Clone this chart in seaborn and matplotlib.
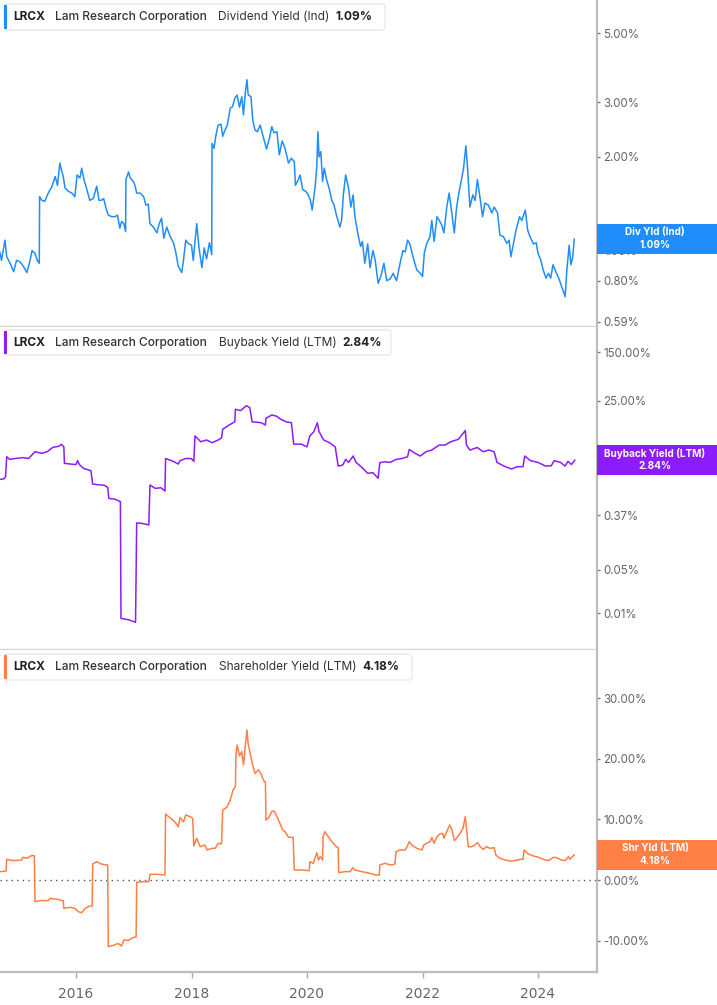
import numpy as np
import pandas as pd
import matplotlib
matplotlib.use("Agg")
import matplotlib.pyplot as plt
import matplotlib.dates as mdates
from matplotlib.patches import Rectangle, FancyBboxPatch
from matplotlib.ticker import NullLocator
import seaborn as sns

W, H = 717, 1005

# 데이터 (연도 소수점 표기, 값은 %)
div_t = [
    2014.68, 2014.71, 2014.77, 2014.80, 2014.86, 2014.92, 2014.97, 2015.03, 2015.09, 2015.15,
    2015.20, 2015.24, 2015.29, 2015.33, 2015.365, 2015.37, 2015.41, 2015.46, 2015.52, 2015.58,
    2015.64, 2015.68, 2015.72, 2015.75, 2015.78, 2015.81, 2015.87, 2015.93, 2015.98, 2016.02,
    2016.07, 2016.10, 2016.14, 2016.19, 2016.24, 2016.30, 2016.36, 2016.40, 2016.44, 2016.48,
    2016.52, 2016.56, 2016.62, 2016.68, 2016.72, 2016.76, 2016.79, 2016.83, 2016.86, 2016.866,
    2016.91, 2016.94, 2016.99, 2017.02, 2017.05, 2017.11, 2017.17, 2017.21, 2017.25, 2017.28,
    2017.34, 2017.40, 2017.44, 2017.48, 2017.52, 2017.57, 2017.63, 2017.69, 2017.73, 2017.77,
    2017.83, 2017.86, 2017.90, 2017.94, 2018.00, 2018.03, 2018.09, 2018.13, 2018.18, 2018.22,
    2018.26, 2018.31, 2018.35, 2018.355, 2018.39, 2018.42, 2018.46, 2018.51, 2018.54, 2018.58,
    2018.62, 2018.67, 2018.71, 2018.75, 2018.79, 2018.83, 2018.87, 2018.90, 2018.93, 2018.96,
    2018.98, 2019.03, 2019.06, 2019.10, 2019.14, 2019.19, 2019.24, 2019.30, 2019.35, 2019.39,
    2019.43, 2019.48, 2019.52, 2019.57, 2019.62, 2019.68, 2019.73, 2019.78, 2019.80, 2019.85,
    2019.88, 2019.925, 2019.98, 2020.02, 2020.06, 2020.09, 2020.14, 2020.17, 2020.19, 2020.21,
    2020.24, 2020.27, 2020.30, 2020.34, 2020.39, 2020.43, 2020.47, 2020.51, 2020.57, 2020.60,
    2020.63, 2020.67, 2020.72, 2020.76, 2020.80, 2020.83, 2020.89, 2020.93, 2020.96, 2021.00,
    2021.05, 2021.09, 2021.14, 2021.18, 2021.23, 2021.28, 2021.33, 2021.38, 2021.44, 2021.49,
    2021.55, 2021.61, 2021.66, 2021.70, 2021.74, 2021.78, 2021.84, 2021.90, 2021.96, 2022.00,
    2022.03, 2022.07, 2022.13, 2022.16, 2022.20, 2022.25, 2022.29, 2022.33, 2022.37, 2022.42,
    2022.46, 2022.50, 2022.55, 2022.59, 2022.64, 2022.68, 2022.71, 2022.75, 2022.78, 2022.82,
    2022.87, 2022.91, 2022.95, 2022.995, 2023.04, 2023.08, 2023.14, 2023.20, 2023.24, 2023.30,
    2023.34, 2023.40, 2023.46, 2023.50, 2023.53, 2023.57, 2023.62, 2023.68, 2023.72, 2023.78,
    2023.82, 2023.86, 2023.92, 2023.97, 2024.00, 2024.05, 2024.09, 2024.14, 2024.18, 2024.22,
    2024.26, 2024.32, 2024.36, 2024.41, 2024.44, 2024.47, 2024.50, 2024.54, 2024.57, 2024.60,
    2024.63,
]
div_v = [
    0.99, 0.93, 1.08, 0.955, 0.91, 0.855, 0.93, 0.92, 0.89, 0.85,
    0.92, 1.0, 0.98, 0.93, 0.91, 1.49, 1.45, 1.44, 1.53, 1.60,
    1.73, 1.62, 1.91, 1.81, 1.73, 1.59, 1.55, 1.53, 1.49, 1.75,
    1.71, 1.84, 1.69, 1.57, 1.45, 1.47, 1.61, 1.45, 1.45, 1.47,
    1.37, 1.30, 1.285, 1.285, 1.30, 1.18, 1.24, 1.22, 1.15, 1.69,
    1.79, 1.71, 1.67, 1.62, 1.53, 1.53, 1.49, 1.40, 1.41, 1.22,
    1.19, 1.14, 1.22, 1.27, 1.095, 1.19, 1.11, 1.055, 0.98, 0.89,
    0.85, 0.93, 1.08, 1.055, 1.04, 0.93, 1.22, 1.02, 0.88, 1.02,
    0.94, 1.06, 0.97, 2.21, 2.13, 2.33, 2.53, 2.55, 2.33, 2.44,
    2.53, 2.87, 2.90, 3.09, 3.16, 2.89, 3.12, 2.73, 3.2, 3.54,
    3.17, 3.12, 2.63, 2.44, 2.41, 2.53, 2.33, 2.12, 2.30, 2.50,
    2.39, 2.41, 2.03, 2.25, 2.13, 1.91, 1.98, 1.93, 1.62, 1.69,
    1.75, 1.57, 1.55, 1.51, 1.45, 1.35, 1.59, 1.86, 2.41, 2.00,
    2.08, 1.67, 1.84, 1.69, 1.57, 1.45, 1.40, 1.30, 1.19, 1.25,
    1.51, 1.75, 1.59, 1.38, 1.51, 1.285, 1.11, 1.03, 1.07, 0.91,
    1.05, 0.88, 1.0, 0.93, 0.785, 0.83, 0.91, 0.80, 0.81, 0.845,
    0.80, 0.91, 1.0, 0.99, 1.08, 1.05, 0.945, 0.866, 0.845, 0.825,
    0.98, 1.05, 1.11, 1.25, 1.07, 1.285, 1.25, 1.21, 1.14, 1.38,
    1.53, 1.35, 1.14, 1.38, 1.57, 1.71, 1.84, 2.17, 1.84, 1.38,
    1.51, 1.45, 1.69, 1.48, 1.285, 1.42, 1.40, 1.32, 1.38, 1.32,
    1.12, 1.11, 1.055, 1.08, 0.955, 1.04, 1.165, 1.285, 1.25, 1.35,
    1.165, 1.11, 1.05, 1.06, 0.98, 0.93, 0.866, 0.815, 0.845, 0.815,
    0.90, 0.845, 0.815, 0.765, 0.74, 0.71, 0.866, 1.04, 0.90, 0.95,
    1.09,
]

bb_t = [
    2014.684, 2014.75, 2014.78, 2014.80, 2014.85, 2014.95, 2015.08, 2015.18, 2015.29, 2015.41,
    2015.50, 2015.60, 2015.70, 2015.75, 2015.79, 2015.80, 2015.90, 2016.00, 2016.03, 2016.06,
    2016.13, 2016.26, 2016.29, 2016.39, 2016.49, 2016.55, 2016.57, 2016.68, 2016.77, 2016.78,
    2016.91, 2017.03, 2017.05, 2017.14, 2017.26, 2017.28, 2017.37, 2017.47, 2017.54, 2017.55,
    2017.67, 2017.77, 2017.80, 2017.90, 2017.995, 2018.04, 2018.06, 2018.16, 2018.26, 2018.36,
    2018.46, 2018.52, 2018.54, 2018.65, 2018.75, 2018.76, 2018.85, 2018.95, 2019.01, 2019.05,
    2019.14, 2019.21, 2019.28, 2019.29, 2019.39, 2019.47, 2019.54, 2019.64, 2019.73, 2019.77,
    2019.90, 2020.00, 2020.05, 2020.12, 2020.18, 2020.21, 2020.29, 2020.39, 2020.49, 2020.54,
    2020.62, 2020.67, 2020.72, 2020.80, 2020.85, 2020.95, 2021.05, 2021.14, 2021.23, 2021.26,
    2021.34, 2021.44, 2021.54, 2021.64, 2021.74, 2021.77, 2021.87, 2021.96, 2022.06, 2022.16,
    2022.29, 2022.39, 2022.49, 2022.62, 2022.74, 2022.76, 2022.82, 2022.95, 2023.05, 2023.15,
    2023.24, 2023.29, 2023.41, 2023.54, 2023.64, 2023.74, 2023.77, 2023.87, 2024.00, 2024.13,
    2024.23, 2024.28, 2024.39, 2024.47, 2024.52, 2024.58, 2024.64,
]
bb_v = [
    1.39, 1.42, 1.53, 3.2, 2.91, 3.0, 3.1, 3.0, 3.85, 3.63,
    3.85, 4.53, 4.7, 5.06, 4.6, 2.51, 2.45, 2.4, 2.77, 2.4,
    2.09, 1.91, 1.17, 1.14, 1.12, 1.04, 0.69, 0.67, 0.61, 0.0083,
    0.0079, 0.0072, 0.28, 0.275, 0.26, 1.13, 1.0, 1.02, 0.905, 3.0,
    2.74, 2.45, 2.77, 3.0, 3.0, 2.7, 6.9, 5.57, 5.93, 5.37,
    5.93, 6.4, 8.8, 10.3, 11.6, 18.4, 17.5, 21.0, 19.5, 11.6,
    11.4, 11.2, 10.3, 13.2, 14.9, 14.3, 12.8, 11.6, 11.2, 5.1,
    5.1, 4.6, 6.9, 8.05, 11.2, 8.05, 5.93, 5.37, 4.6, 2.27,
    2.36, 2.9, 2.6, 3.29, 2.6, 2.17, 1.74, 1.78, 1.45, 2.57,
    2.66, 2.6, 2.9, 3.0, 3.2, 4.2, 3.63, 3.29, 3.85, 4.1,
    4.93, 4.93, 5.57, 6.08, 8.4, 4.93, 4.1, 4.5, 3.85, 4.1,
    3.85, 2.6, 2.27, 2.04, 2.22, 2.22, 3.29, 2.77, 2.6, 2.27,
    2.3, 2.77, 2.6, 2.27, 2.7, 2.4, 2.84,
]

sh_t = [
    2014.684, 2014.79, 2014.80, 2014.91, 2015.06, 2015.08, 2015.15, 2015.23, 2015.28, 2015.29,
    2015.38, 2015.52, 2015.55, 2015.69, 2015.75, 2015.78, 2015.79, 2015.90, 2015.98, 2016.04,
    2016.10, 2016.16, 2016.24, 2016.28, 2016.29, 2016.36, 2016.44, 2016.53, 2016.55, 2016.56,
    2016.65, 2016.73, 2016.79, 2016.83, 2016.91, 2016.96, 2017.04, 2017.05, 2017.17, 2017.26,
    2017.28, 2017.40, 2017.54, 2017.55, 2017.60, 2017.66, 2017.71, 2017.77, 2017.80, 2017.86,
    2017.90, 2017.97, 2018.02, 2018.04, 2018.09, 2018.15, 2018.23, 2018.27, 2018.35, 2018.41,
    2018.46, 2018.52, 2018.54, 2018.61, 2018.67, 2018.72, 2018.76, 2018.77, 2018.79, 2018.83,
    2018.87, 2018.90, 2018.93, 2018.96, 2018.98, 2019.02, 2019.06, 2019.10, 2019.16, 2019.20,
    2019.26, 2019.28, 2019.29, 2019.33, 2019.39, 2019.43, 2019.48, 2019.53, 2019.58, 2019.62,
    2019.68, 2019.76, 2019.78,
    2019.88, 2020.04, 2020.05, 2020.11, 2020.17, 2020.20, 2020.23, 2020.27, 2020.28, 2020.31,
    2020.37, 2020.43, 2020.51, 2020.54, 2020.55, 2020.66, 2020.75, 2020.79, 2020.83, 2020.95,
    2021.09, 2021.18, 2021.25, 2021.26, 2021.35, 2021.44, 2021.52, 2021.54, 2021.61, 2021.70,
    2021.73, 2021.77, 2021.81, 2021.90, 2021.99, 2022.02, 2022.07, 2022.13, 2022.16, 2022.20,
    2022.25, 2022.30, 2022.35, 2022.37, 2022.42, 2022.47, 2022.51, 2022.55, 2022.59, 2022.65,
    2022.70, 2022.74, 2022.77, 2022.79, 2022.85, 2022.91, 2022.95, 2023.00, 2023.05, 2023.11,
    2023.17, 2023.24, 2023.27, 2023.34, 2023.43, 2023.52, 2023.60, 2023.69, 2023.74, 2023.76,
    2023.83, 2023.92, 2024.01, 2024.09, 2024.18, 2024.27, 2024.32, 2024.41, 2024.47, 2024.53,
    2024.55, 2024.60, 2024.63,
]
sh_v = [
    1.37, 1.5, 3.42, 3.2, 3.31, 3.75, 3.59, 4.02, 4.02, -3.58,
    -3.4, -3.4, -3.03, -3.2, -3.4, -3.4, -4.68, -4.52, -4.68, -5.23,
    -5.4, -4.68, -4.3, -4.3, 2.64, 3.03, 2.64, 2.48, 2.48, -11.0,
    -10.8, -10.47, -10.9, -9.9, -10.0, -9.64, -9.37, -0.39, -0.28, -0.28,
    0.94, 0.94, 0.83, 10.9, 10.5, 10.0, 9.6, 8.8, 10.3, 9.6,
    10.74, 10.5, 10.2, 5.62, 6.89, 5.5, 5.78, 4.96, 5.23, 5.23,
    6.06, 5.95, 11.57, 12.0, 13.2, 14.9, 15.4, 20.9, 22.3, 20.5,
    21.2, 19.0, 22.0, 24.8, 22.6, 20.7, 19.0, 17.6, 18.2, 17.6,
    16.25, 16.25, 9.9, 10.2, 11.3, 11.4, 10.5, 9.37, 8.26, 7.98,
    7.05, 7.05, 1.65,
    1.65, 1.55, 3.03, 2.76, 4.51, 3.3, 3.86, 3.3, 7.16, 7.98,
    7.16, 6.33, 5.5, 5.34, 1.21, 1.38, 1.38, 2.03, 1.65, 1.38,
    1.1, 0.83, 0.83, 2.48, 2.76, 2.48, 2.6, 4.68, 4.96, 4.96,
    5.5, 6.33, 5.78, 5.23, 4.96, 5.78, 6.06, 6.33, 7.0, 6.06,
    7.16, 7.6, 7.71, 6.9, 7.98, 9.1, 8.3, 6.5, 6.9, 7.7,
    8.54, 10.47, 7.7, 5.5, 5.5, 5.78, 6.17, 5.5, 5.07, 5.5,
    5.23, 5.34, 4.13, 3.58, 3.3, 3.14, 3.2, 3.42, 3.42, 4.96,
    4.3, 3.97, 3.75, 3.42, 3.2, 3.75, 3.69, 3.3, 3.2, 3.86,
    3.42, 3.86, 4.18,
]

div_ticks = [0.59, 0.80, 1.00, 2.00, 3.00, 5.00]
bb_ticks = [0.01, 0.05, 0.37, 3.05, 25.00, 150.00]
sh_ticks = [-10, 0, 10, 20, 30]

X_RANGE = [2014.684, 2025.02]

BLUE = "#1F8EFA"
PURPLE = "#8C1CFA"
ORANGE = "#FF7F45"


def to_dates(years):
    out = []
    for y in years:
        yr = int(np.floor(y))
        out.append(pd.Timestamp(yr, 1, 1) + pd.Timedelta(days=(y - yr) * 365.25))
    return pd.to_datetime(out)


sns.set_theme(style="white")
plt.rcParams["font.family"] = ["Inter", "DejaVu Sans"]

fig = plt.figure(figsize=(W / 100, H / 100), dpi=100)


def px_axes(left, top, right, bottom):
    return fig.add_axes([left / W, 1 - bottom / H, (right - left) / W, (bottom - top) / H])


ax1 = px_axes(0, 0, 597, 326)
ax2 = px_axes(0, 327, 597, 649)
ax3 = px_axes(0, 650, 597, 972)

panels = [
    (ax1, div_t, div_v, BLUE, "log", (0.572, 6.39), div_ticks),
    (ax2, bb_t, bb_v, PURPLE, "log", (0.00269, 381), bb_ticks),
    (ax3, sh_t, sh_v, ORANGE, "linear", (-15.2, 38.0), sh_ticks),
]

for ax, t, v, color, scale, ylim, ticks in panels:
    df = pd.DataFrame({"date": to_dates(t), "val": v})
    sns.lineplot(data=df, x="date", y="val", ax=ax, color=color, linewidth=1.1,
                 estimator=None, sort=False)
    ax.set_yscale(scale)
    ax.set_ylim(*ylim)
    ax.set_xlim(to_dates(X_RANGE))
    ax.set_xlabel("")
    ax.set_ylabel("")
    ax.set_facecolor("white")
    ax.yaxis.tick_right()
    ax.set_yticks(ticks)
    ax.set_yticklabels([f"{x:.2f}%" for x in ticks])
    ax.yaxis.set_minor_locator(NullLocator())
    ax.tick_params(axis="y", which="major", right=True, length=2, width=1, color="#777",
                   labelsize=8.3, labelcolor="#666", pad=2.5)
    for s in ["left", "top"]:
        ax.spines[s].set_visible(False)
    ax.spines["right"].set_color("#bdbdbd")
    ax.spines["right"].set_linewidth(1.6)
    ax.spines["bottom"].set_color("#d4d4d4")
    ax.spines["bottom"].set_linewidth(1.0)

for ax in (ax1, ax2):
    ax.tick_params(axis="x", bottom=False, labelbottom=False)

# 0% 점선
ax3.axhline(0, color="#555", linestyle=(0, (1, 3)), linewidth=1.0, zorder=1)
ax3.spines["bottom"].set_color("#bdbdbd")
ax3.spines["bottom"].set_linewidth(1.6)
ax3.xaxis.set_major_locator(mdates.YearLocator(2))
ax3.xaxis.set_major_formatter(mdates.DateFormatter("%Y"))
ax3.tick_params(axis="x", bottom=True, length=4, width=1, color="#aaa", labelsize=10,
                labelcolor="#666", pad=7)
for lbl in ax3.get_xticklabels():
    lbl.set_fontfamily(["Liberation Sans Narrow", "DejaVu Sans"])

# 범례 박스
legends = [
    (4, 30, 385, "Dividend Yield (Ind)", 218, "1.09%", 335, BLUE),
    (330, 355, 391, "Buyback Yield (LTM)", 219, "2.84%", 342, PURPLE),
    (654, 680, 412, "Shareholder Yield (LTM)", 219, "4.18%", 362, ORANGE),
]
for top, bottom, right, metric, mx, val, vx, color in legends:
    box = FancyBboxPatch((4 / W, 1 - bottom / H), (right - 4) / W, (bottom - top) / H,
                         boxstyle="round,pad=0,rounding_size=0.004", transform=fig.transFigure,
                         facecolor="white", edgecolor="#e4e4e4", linewidth=0.8, zorder=4)
    fig.add_artist(box)
    bar = Rectangle((4 / W, 1 - (bottom - 1) / H), 3 / W, (bottom - top - 2) / H,
                    transform=fig.transFigure, facecolor=color, edgecolor="none", zorder=5)
    fig.add_artist(bar)
    yc = 1 - (top + bottom) / 2 / H
    fig.text(13 / W, yc, "LRCX", fontsize=8.6, fontweight="bold", color="#222", va="center", zorder=6)
    fig.text(55 / W, yc, "Lam Research Corporation", fontsize=8.6, fontweight="medium",
             color="#333", va="center", zorder=6)
    fig.text(mx / W, yc, metric, fontsize=8.6, color="#333", va="center", zorder=6)
    fig.text(vx / W, yc, val, fontsize=8.6, fontweight="bold", color="#222", va="center", zorder=6)

# 오른쪽 값 배지
badges = [
    (ax1, div_t, div_v, "Div Yld (Ind)", BLUE),
    (ax2, bb_t, bb_v, "Buyback Yield (LTM)", PURPLE),
    (ax3, sh_t, sh_v, "Shr Yld (LTM)", ORANGE),
]
for ax, t, v, name, color in badges:
    xnum = mdates.date2num(to_dates([t[-1]]))[0]
    _, ypix = ax.transData.transform((xnum, v[-1]))
    rect = Rectangle((597 / W, (ypix - 15) / H), 120 / W, 30 / H, transform=fig.transFigure,
                     facecolor=color, edgecolor="none", zorder=7)
    fig.add_artist(rect)
    fig.text(655 / W, (ypix + 6.5) / H, name, fontsize=7.2, fontweight="bold", color="white",
             ha="center", va="center", zorder=8)
    fig.text(655 / W, (ypix - 6.5) / H, f"{v[-1]:.2f}%", fontsize=7.2, fontweight="bold",
             color="white", ha="center", va="center", zorder=8)

fig.savefig("out.png", dpi=100, facecolor="white")
